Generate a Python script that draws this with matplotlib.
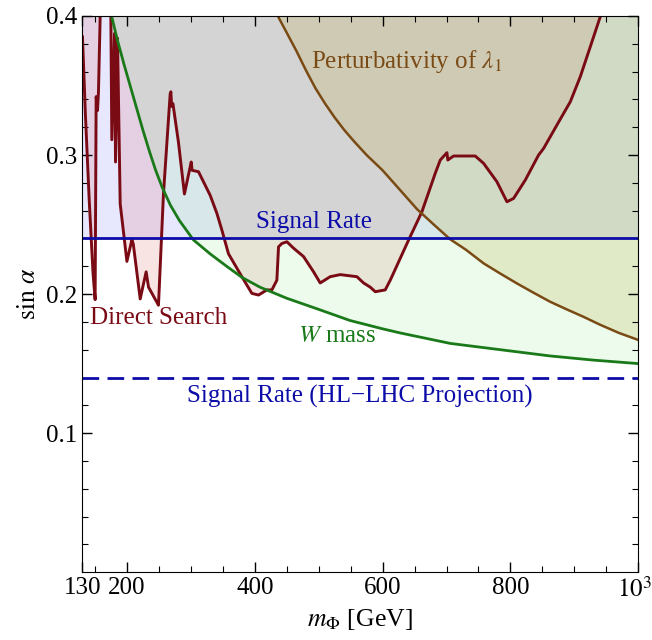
import numpy as np
import matplotlib
matplotlib.use('Agg')
import matplotlib.pyplot as plt
from matplotlib.transforms import ScaledTranslation

plt.rcParams['font.family'] = 'Liberation Serif'
plt.rcParams['mathtext.fontset'] = 'stix'

# Direct search limit (dark red curve)
ds_m = [130.5, 135, 141, 147, 150.3, 151.9, 154, 155.5, 158.2, 164,
        171, 174.9, 176.4, 180.6, 182.2, 185.3, 189.5, 200, 207.8, 210,
        220.8, 230.1, 233.8, 249.4, 257.2, 267.7, 268.8, 270, 272, 280.7,
        290, 300.6, 302, 312, 330.3, 340.8, 348.6, 358.9, 379.8, 395.5,
        405.9, 419, 426.8, 434.6, 437.2, 442.5, 450.3, 460.7, 476.3, 492,
        502.4, 518, 533.7, 559.8, 570.2, 580.6, 588.5, 604.1, 612, 640.6,
        661.5, 682.3, 690.2, 700.6, 702, 711, 744.9, 758, 778.8, 794.5,
        804.9, 823.2, 844, 851.9, 872.7, 893.6, 909.2, 924.9, 940.5, 950]
ds_v = [0.385, 0.33, 0.268, 0.215, 0.196, 0.342, 0.332, 0.345, 0.400, 0.46,
        0.46, 0.400, 0.311, 0.3875, 0.295, 0.384, 0.265, 0.2235, 0.239, 0.236,
        0.1965, 0.216, 0.205, 0.192, 0.272, 0.344, 0.3455, 0.335, 0.337, 0.309,
        0.272, 0.295, 0.289, 0.288, 0.271, 0.258, 0.246, 0.229, 0.2125, 0.2005,
        0.1993, 0.203, 0.203, 0.210, 0.234, 0.2364, 0.2376, 0.233, 0.227, 0.216,
        0.208, 0.2125, 0.214, 0.2125, 0.208, 0.205, 0.2017, 0.203, 0.210, 0.2388,
        0.2592, 0.2868, 0.2964, 0.3017, 0.2964, 0.2993, 0.2993, 0.294, 0.2808, 0.2664,
        0.2688, 0.282, 0.300, 0.3048, 0.3216, 0.3383, 0.3563, 0.3779, 0.3995, 0.41]

# W mass constraint (green curve)
w_m = [170, 176, 185, 195, 205, 215, 225, 235, 245, 255,
       268, 282, 304, 330, 356, 380, 408, 450, 500, 549,
       600, 628, 706, 784, 862, 930, 1000]
w_v = [0.412, 0.400, 0.383, 0.366, 0.350, 0.334, 0.318, 0.303, 0.289, 0.277,
       0.264, 0.253, 0.239, 0.229, 0.220, 0.212, 0.205, 0.197, 0.189, 0.181,
       0.175, 0.172, 0.1645, 0.160, 0.1555, 0.1525, 0.150]

# Perturbativity of lambda_1 (brown curve)
p_m = [430, 437.2, 450, 465, 480, 495, 510, 525, 540, 555,
       575, 600, 627, 654, 680, 706, 730, 758, 785, 810,
       836, 862, 888, 914, 940, 970, 1000]
p_v = [0.407, 0.399, 0.388, 0.375, 0.361, 0.348, 0.337, 0.327, 0.318, 0.310,
       0.300, 0.289, 0.275, 0.261, 0.250, 0.2393, 0.232, 0.2221, 0.2145, 0.2077,
       0.201, 0.1945, 0.189, 0.1837, 0.178, 0.172, 0.167]

# Signal rate limits
signal_rate = 0.24
signal_rate_hl = 0.14

fig, ax = plt.subplots(figsize=(6.52, 6.4), dpi=100)
fig.subplots_adjust(left=0.126, right=0.979, top=0.975, bottom=0.106)

red = '#7a0a14'
green = '#1a7a1a'
brown = '#7a4a14'
blue = '#0c0ca8'

ax.axhspan(signal_rate, 1, color=(0.35, 0.35, 0.95), alpha=0.14, lw=0)
ax.fill_between(ds_m, ds_v, 1, color=(0.85, 0.3, 0.3), alpha=0.15, lw=0)
ax.fill_between(w_m, w_v, 1, color=(0.55, 0.92, 0.55), alpha=0.16, lw=0)
ax.fill_between(p_m, p_v, 1, color=(0.7, 0.65, 0.2), alpha=0.2, lw=0)

ax.plot(ds_m, ds_v, color=red, lw=2.1)
ax.plot(w_m, w_v, color=green, lw=2)
ax.plot(p_m, p_v, color=brown, lw=1.8)
ax.axhline(signal_rate, color=blue, lw=2)
ax.axhline(signal_rate_hl, color=blue, lw=2, dashes=(6, 3))

fs = 18
ax.text(637, 0.367, r'Perturbativity of $\lambda_1$', color=brown, fontsize=fs,
        ha='center', va='center')
ax.text(492, 0.252, 'Signal Rate', color=blue, fontsize=fs, ha='center', va='center')
ax.text(249, 0.183, 'Direct Search', color=red, fontsize=fs, ha='center', va='center')
ax.text(529, 0.170, r'$W$ mass', color=green, fontsize=fs, ha='center', va='center')
ax.text(565, 0.1266, 'Signal Rate (HL\u2212LHC Projection)', color=blue, fontsize=fs,
        ha='center', va='center')

ax.set_xlim(130, 1000)
ax.set_ylim(0, 0.4)
ax.set_xticks([130, 200, 400, 600, 800, 1000])
ax.set_xticklabels(['130', '200', '400', '600', '800', r'$10^3$'])
ax.set_xticks(np.arange(150, 1000, 50), minor=True)
ax.set_yticks([0.1, 0.2, 0.3, 0.4])
ax.set_yticklabels(['0.1', '0.2', '0.3', '0.4'])
ax.set_yticks(np.arange(0.02, 0.4, 0.02), minor=True)
ax.tick_params(which='both', direction='in', top=True, right=True, labelsize=18)
ax.tick_params(which='major', length=7, width=1)
ax.tick_params(which='minor', length=4, width=0.8)

# keep the 10^3 label inside the figure
last = ax.get_xticklabels()[-1]
last.set_transform(last.get_transform() + ScaledTranslation(-0.04, 0, fig.dpi_scale_trans))

ax.set_xlabel(r'$m_\Phi$ [GeV]', fontsize=18.5)
ax.set_ylabel(r'$\sin\,\alpha$', fontsize=18.5)

fig.savefig('out.png', dpi=100)
